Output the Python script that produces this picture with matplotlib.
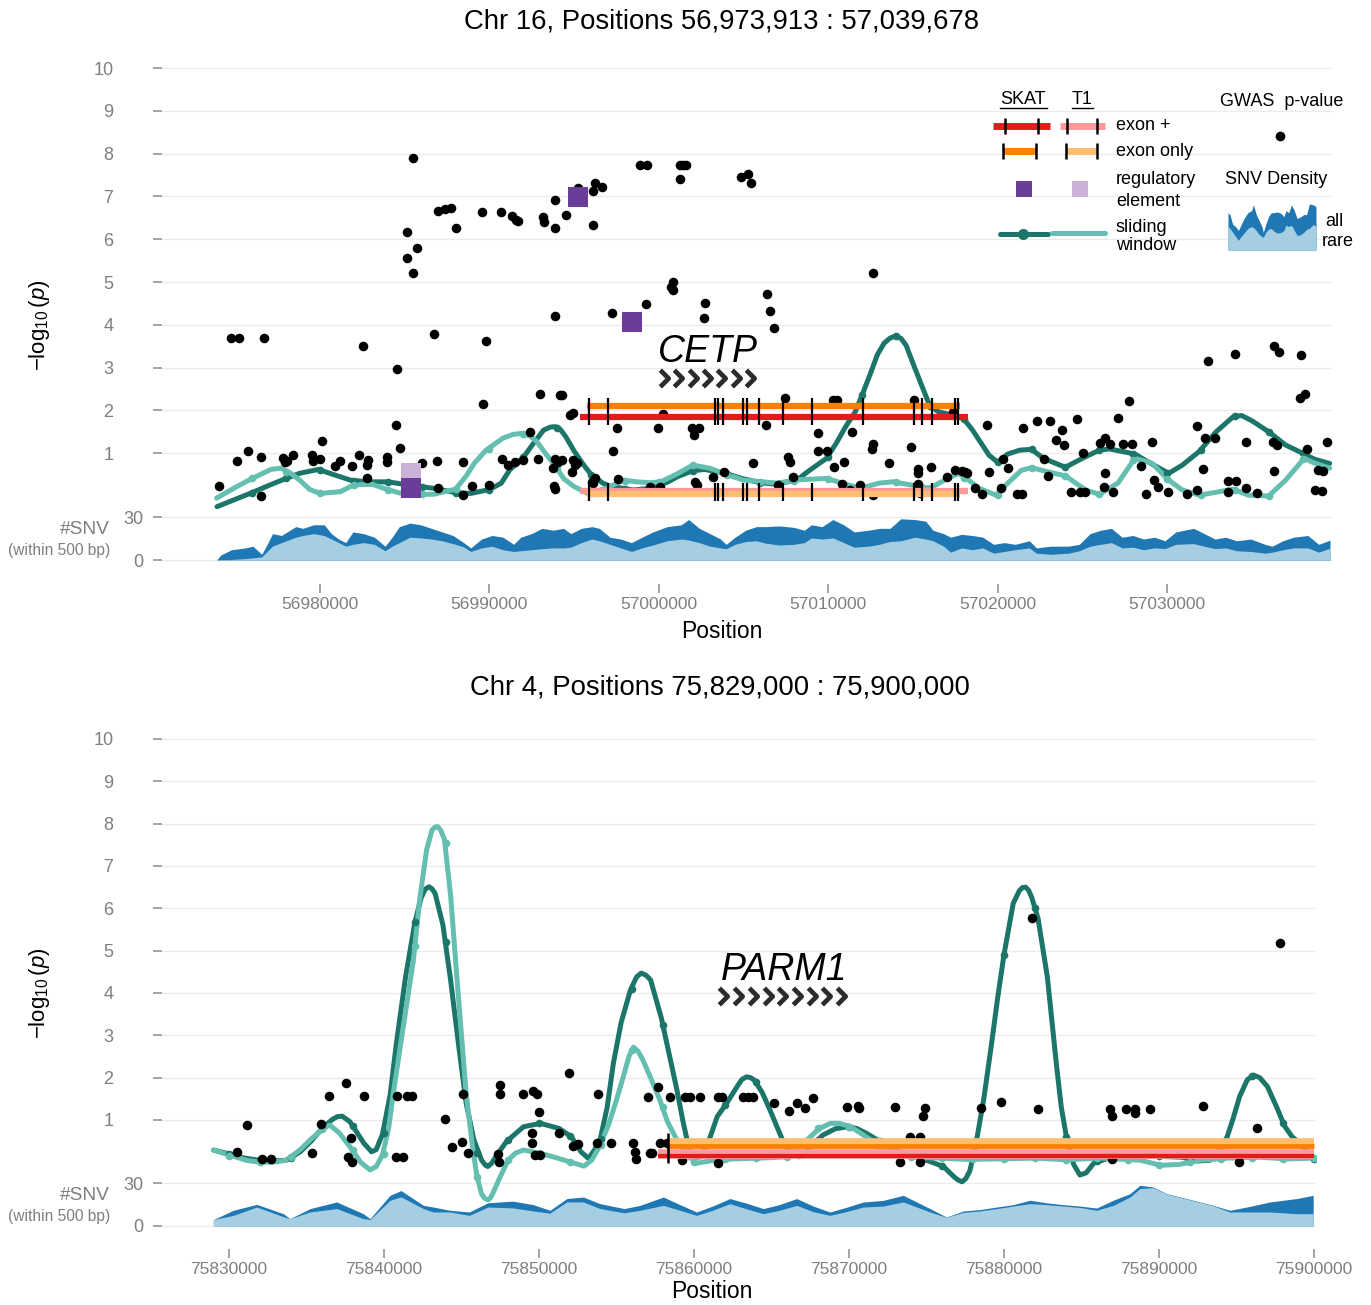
import numpy as np
import matplotlib.pyplot as plt
from matplotlib.path import Path

plt.rcParams['font.family'] = ['Liberation Sans', 'DejaVu Sans']
plt.rcParams['mathtext.fontset'] = 'custom'
plt.rcParams['mathtext.rm'] = 'Liberation Sans'
plt.rcParams['mathtext.it'] = 'Liberation Sans:italic'

# colours
SKAT_SW = '#1b7568'
T1_SW = '#64bfb1'
SKAT_EXP = '#e41a1c'
T1_EXP = '#fb9a99'
SKAT_EXO = '#ff7f00'
T1_EXO = '#fdbf6f'
SKAT_REG = '#6a3d9a'
T1_REG = '#cab2d6'
SNV_ALL = '#1f78b4'
SNV_RARE = '#a6cee3'
GRID = '#ebebeb'
TICK = '#7f7f7f'

# ---------------------------- data: chr16 / CETP (positions in kb) ----------------------------
gwas16 = [
    (56985.47, 7.89), (56998.89, 7.73), (56999.29, 7.73), (56996.23, 7.32), (56996.63, 7.23),
    (56996.13, 7.13), (56995.21, 7.19), (56993.87, 6.92), (56986.95, 6.67), (56987.38, 6.71),
    (56987.73, 6.74), (56988.01, 6.27), (56989.55, 6.63), (56990.68, 6.63), (56991.35, 6.54),
    (56991.71, 6.43), (56991.57, 6.45), (56993.18, 6.51), (56993.20, 6.41), (56993.87, 6.27),
    (56994.50, 6.57), (56996.13, 6.33), (56985.12, 6.18), (56985.74, 5.80), (56985.12, 5.57),
    (56985.51, 5.22), (56974.75, 3.68), (56975.24, 3.68), (56976.71, 3.68), (56982.52, 3.51),
    (56986.75, 3.79), (56989.80, 3.62), (56984.56, 2.97), (56993.87, 4.21), (56997.22, 4.28),
    (56999.24, 4.48), (56989.60, 2.16), (56992.99, 2.38), (56994.17, 2.35), (56994.76, 1.89),
    (56994.95, 1.95), (56997.51, 1.58), (56997.31, 1.05), (56984.47, 1.67), (56984.72, 1.11),
    (56980.14, 1.29), (56992.40, 1.49),
    (56975.77, 1.04), (56975.08, 0.82), (56976.50, 0.92), (56977.83, 0.88), (56978.07, 0.82),
    (56978.42, 0.96), (56977.93, 0.80), (56979.51, 0.96), (56979.60, 0.82), (56980.00, 0.86),
    (56980.89, 0.69), (56981.18, 0.82), (56981.87, 0.69), (56982.30, 0.96), (56982.76, 0.72),
    (56982.85, 0.84), (56982.76, 0.43), (56983.94, 0.92), (56983.94, 0.80), (56986.00, 0.76),
    (56986.89, 0.82), (56988.46, 0.80), (56990.76, 0.86), (56991.12, 0.72), (56991.51, 0.80),
    (56992.00, 0.84), (56992.85, 0.86), (56993.87, 0.86), (56994.07, 0.80), (56994.27, 0.84),
    (56994.95, 0.84), (56995.15, 0.76), (56994.86, 0.57), (56993.77, 0.65), (56993.81, 0.23),
    (56993.87, 0.16), (56974.06, 0.24), (56976.52, 0.01), (56988.99, 0.23), (56988.46, 0.02),
    (56989.99, 0.26), (56996.23, 0.41), (56996.04, 0.33), (56997.61, 0.39), (56986.98, 0.18),
    (57001.25, 7.73), (57001.61, 7.73), (57001.41, 7.73), (57001.25, 7.41), (57004.85, 7.45),
    (57005.28, 7.52), (57005.44, 7.32), (57012.66, 5.22), (57000.86, 5.01), (57000.72, 4.89),
    (57000.86, 4.81), (57002.73, 4.52), (57002.67, 4.17), (57006.37, 4.71), (57006.56, 4.32),
    (57006.82, 3.93), (56994.27, 2.36), (57000.27, 1.92), (57007.45, 2.28), (57010.30, 2.24),
    (57010.50, 2.24), (57015.06, 2.24), (57017.38, 1.97), (56999.93, 1.58), (57001.94, 1.60),
    (57002.39, 1.60), (57002.10, 1.43), (57006.31, 1.66), (57009.38, 1.48), (57011.39, 1.50),
    (57012.66, 1.21), (57012.57, 1.09), (57014.87, 1.14), (57009.38, 1.04), (57009.91, 1.06),
    (56995.05, 0.72), (57005.54, 0.76), (57007.61, 0.90), (57007.74, 0.80), (57010.93, 0.80),
    (57010.36, 0.67), (57013.59, 0.78), (57015.32, 0.62), (57015.32, 0.53), (57016.05, 0.67),
    (57017.49, 0.61), (57018.08, 0.57), (57018.67, 0.18), (57017.00, 0.45), (56996.13, 0.30),
    (56999.48, 0.22), (57000.07, 0.22), (57002.14, 0.33), (57002.24, 0.26), (57003.18, 0.45),
    (57003.87, 0.55), (57007.94, 0.45), (57007.02, 0.26), (57010.80, 0.28), (57011.29, 0.14),
    (57011.88, 0.26), (57012.66, 0.02), (57015.32, 0.28), (57015.42, 0.06),
    (57032.44, 3.15), (57034.01, 3.31), (57036.32, 3.50), (57036.63, 3.37), (57037.89, 3.29),
    (57037.85, 2.28), (57038.15, 2.38), (57027.76, 2.22), (57019.39, 1.67), (57021.52, 1.60),
    (57022.34, 1.76), (57023.09, 1.76), (57023.78, 1.54), (57023.45, 1.31), (57023.94, 1.19),
    (57024.67, 1.80), (57027.09, 1.83), (57025.06, 1.00), (57026.34, 1.35), (57026.04, 1.23),
    (57026.64, 1.21), (57027.38, 1.21), (57027.92, 1.21), (57029.10, 1.27), (57031.79, 1.64),
    (57032.24, 1.36), (57032.83, 1.36), (57034.66, 1.27), (57036.27, 1.25), (57036.48, 1.19),
    (57038.28, 1.10), (57039.43, 1.25), (57017.88, 0.59), (57018.17, 0.54), (57019.51, 0.57),
    (57020.30, 0.86), (57020.63, 0.66), (57022.76, 0.86), (57022.96, 0.47), (57019.06, 0.04),
    (57020.20, 0.18), (57021.13, 0.04), (57021.42, 0.04), (57024.31, 0.10), (57024.86, 0.10),
    (57025.16, 0.10), (57026.34, 0.53), (57026.30, 0.22), (57026.83, 0.10), (57028.47, 0.70),
    (57028.76, 0.04), (57029.23, 0.37), (57029.49, 0.22), (57030.08, 0.09), (57031.16, 0.04),
    (57031.75, 0.14), (57032.11, 0.63), (57033.62, 0.35), (57034.07, 0.35), (57033.62, 0.10),
    (57034.66, 0.18), (57035.33, 0.08), (57036.32, 0.59), (57038.93, 0.61), (57039.23, 0.59),
    (57038.74, 0.14), (57039.13, 0.12),
]

# sliding window, SKAT
sw16_skat = [
    (56973.92, -0.25), (56976.0, 0.08), (56977.0, 0.25), (56978.0, 0.41), (56978.8, 0.53),
    (56979.9, 0.62), (56980.8, 0.50), (56981.8, 0.37), (56982.8, 0.33), (56984.0, 0.33),
    (56985.7, 0.23), (56986.7, 0.18), (56988.0, 0.08), (56988.9, 0.06), (56990.0, 0.15),
    (56990.7, 0.30), (56991.2, 0.61), (56992.0, 0.90), (56992.6, 1.23), (56993.2, 1.54),
    (56993.6, 1.61), (56993.9, 1.62), (56994.2, 1.55), (56994.5, 1.39), (56995.0, 1.05),
    (56995.5, 0.76), (56996.0, 0.50), (56996.7, 0.30), (56997.1, 0.23), (56998.0, 0.17),
    (56998.5, 0.14), (56999.5, 0.18), (57000.5, 0.32), (57001.1, 0.45), (57002.0, 0.59),
    (57002.7, 0.62), (57003.9, 0.53), (57004.9, 0.41), (57006.0, 0.31), (57006.8, 0.28),
    (57007.6, 0.33), (57008.3, 0.42), (57008.9, 0.60), (57009.9, 0.88), (57010.5, 1.25),
    (57011.0, 1.60), (57011.6, 1.97), (57012.0, 2.36), (57012.5, 2.87), (57012.9, 3.30),
    (57013.3, 3.57), (57013.65, 3.69), (57014.0, 3.74), (57014.3, 3.68), (57014.6, 3.52),
    (57015.1, 3.00), (57015.6, 2.50), (57016.0, 2.10), (57016.5, 1.97), (57017.0, 1.92),
    (57017.6, 1.86), (57018.0, 1.80), (57018.5, 1.55), (57019.0, 1.25), (57019.5, 0.95),
    (57020.0, 0.79), (57020.6, 0.98), (57021.3, 1.07), (57022.0, 1.09), (57022.7, 0.88),
    (57024.0, 0.67), (57025.0, 0.88), (57026.0, 1.07), (57026.6, 1.10), (57028.1, 0.98),
    (57029.0, 0.77), (57030.1, 0.53), (57030.9, 0.72), (57031.9, 1.04), (57032.9, 1.50),
    (57033.9, 1.85), (57034.4, 1.88), (57035.0, 1.76), (57036.0, 1.50), (57037.0, 1.19),
    (57038.0, 1.00), (57038.7, 0.86), (57039.6, 0.76),
]
sw16_t1 = [
    (56973.9, -0.05), (56975.0, 0.20), (56976.0, 0.41), (56977.1, 0.62), (56977.7, 0.65),
    (56978.2, 0.55), (56978.8, 0.37), (56979.4, 0.15), (56980.0, 0.06), (56981.2, 0.10),
    (56982.0, 0.26), (56983.1, 0.27), (56983.9, 0.16), (56984.7, 0.07), (56985.5, 0.04),
    (56986.7, 0.04), (56988.0, 0.16), (56988.6, 0.45), (56989.1, 0.76), (56989.8, 1.07),
    (56990.8, 1.35), (56991.4, 1.44), (56991.9, 1.46), (56992.4, 1.40), (56992.8, 1.27),
    (56993.3, 1.00), (56993.9, 0.69), (56994.4, 0.40), (56995.0, 0.22), (56995.8, 0.06),
    (56996.9, 0.18), (56997.9, 0.37), (56998.7, 0.33), (56999.5, 0.31), (57000.1, 0.33),
    (57001.0, 0.50), (57002.0, 0.72), (57003.0, 0.65), (57004.0, 0.50), (57005.0, 0.37),
    (57007.0, 0.30), (57008.3, 0.38), (57009.9, 0.41), (57011.0, 0.28), (57011.9, 0.18),
    (57013.0, 0.30), (57013.8, 0.33), (57015.0, 0.25), (57016.0, 0.18), (57017.0, 0.40),
    (57017.7, 0.53), (57018.2, 0.40), (57018.9, 0.18), (57019.9, 0.02), (57020.6, 0.30),
    (57021.4, 0.60), (57022.0, 0.66), (57022.6, 0.60), (57024.0, 0.47), (57025.2, 0.14),
    (57026.0, 0.04), (57027.1, 0.30), (57028.1, 0.88), (57029.1, 0.77), (57030.1, 0.37),
    (57030.9, 0.14), (57031.9, 0.02), (57032.8, 0.08), (57033.9, 0.16), (57034.8, 0.02),
    (57036.0, 0.00), (57037.0, 0.37), (57038.1, 0.88), (57038.7, 0.77), (57039.6, 0.65),
]
# window centres (every 2 kb) marked with a dot
knots16_kb = list(range(56976, 57039, 2))
knots16_skat = [0.08, 0.41, 0.61, 0.36, 0.33, 0.21, 0.08, 0.15, 0.90, 1.58, 0.50, 0.17, 0.25,
                0.59, 0.52, 0.31, 0.37, 0.90, 2.36, 3.74, 2.10, 1.80, 0.79, 1.09, 0.67, 1.07,
                0.99, 0.53, 1.08, 1.86, 1.50, 1.00]
knots16_t1 = [0.41, 0.55, 0.06, 0.26, 0.15, 0.04, 0.16, 1.10, 1.45, 0.65, 0.08, 0.36, 0.33,
              0.72, 0.50, 0.33, 0.36, 0.40, 0.19, 0.32, 0.18, 0.42, 0.03, 0.66, 0.47, 0.04,
              0.85, 0.39, 0.02, 0.15, 0.00, 0.86]

# SNV density within 500 bp (kb, all, rare)
snv16 = [
    (56973.93, 0.5, 0.0), (56974.14, 3.6, 0.3), (56974.77, 7.3, 0.5), (56975.61, 8.6, 1.1),
    (56976.04, 9.8, 1.6), (56976.56, 4.1, 2.3), (56976.88, 11.1, 6.1), (56977.20, 18.6, 9.8),
    (56977.72, 17.3, 12.3), (56978.57, 23.5, 16.1), (56978.99, 22.3, 17.3), (56979.62, 24.8, 18.6),
    (56980.25, 24.8, 17.3), (56980.67, 18.6, 14.8), (56981.10, 14.8, 12.3), (56981.52, 12.3, 9.8),
    (56981.94, 19.8, 11.1), (56982.57, 18.6, 12.3), (56983.21, 16.1, 11.1), (56983.84, 9.8, 6.6),
    (56984.26, 16.1, 9.8), (56984.68, 23.5, 12.3), (56985.31, 26.0, 16.1), (56985.94, 24.8, 15.6),
    (56986.58, 22.3, 14.8), (56987.21, 19.8, 13.6), (56987.85, 17.3, 11.6), (56988.48, 12.3, 9.3),
    (56988.90, 8.6, 6.1), (56989.53, 14.8, 8.6), (56990.16, 17.3, 9.8), (56990.80, 16.1, 7.3),
    (56991.43, 11.1, 6.1), (56991.85, 16.1, 6.6), (56992.48, 18.6, 7.3), (56993.11, 22.3, 8.0),
    (56993.75, 21.0, 8.6), (56994.38, 22.3, 8.6), (56994.80, 18.6, 9.1), (56995.43, 22.3, 12.3),
    (56996.06, 23.5, 14.8), (56996.49, 22.3, 13.6), (56997.12, 16.1, 11.1), (56997.75, 14.8, 8.6),
    (56998.38, 12.3, 6.1), (56999.01, 16.1, 8.6), (56999.65, 19.8, 10.6), (57000.49, 23.5, 13.6),
    (57001.33, 24.8, 14.8), (57001.76, 28.5, 14.1), (57002.39, 22.3, 12.3), (57003.02, 18.6, 9.8),
    (57003.65, 14.8, 8.6), (57003.97, 11.1, 8.0), (57004.50, 16.1, 11.1), (57005.13, 21.0, 13.1),
    (57005.76, 23.5, 13.6), (57006.27, 23.5, 12.0), (57007.11, 24.0, 10.6), (57007.96, 23.0, 11.1),
    (57008.59, 21.0, 12.3), (57009.01, 24.8, 15.6), (57009.64, 23.5, 14.8), (57010.28, 28.5, 15.6),
    (57010.91, 24.8, 12.3), (57011.54, 19.8, 9.1), (57012.38, 21.0, 9.8), (57013.02, 22.3, 11.1),
    (57013.65, 22.3, 13.1), (57014.28, 29.0, 13.6), (57015.13, 28.5, 16.1), (57015.76, 27.3, 14.8),
    (57016.18, 21.0, 13.6), (57016.81, 18.6, 9.8), (57017.23, 16.1, 5.6), (57017.87, 18.1, 8.6),
    (57018.50, 17.3, 7.3), (57019.13, 16.1, 8.6), (57019.76, 11.1, 4.9), (57020.40, 12.3, 6.1),
    (57021.03, 11.1, 7.3), (57021.87, 13.6, 8.6), (57022.29, 8.6, 4.9), (57023.14, 9.8, 4.1),
    (57024.19, 9.8, 4.9), (57024.82, 11.1, 6.6), (57025.46, 18.6, 9.8), (57026.09, 21.0, 11.1),
    (57026.72, 22.3, 12.3), (57027.35, 16.1, 8.6), (57027.99, 17.3, 9.1), (57028.62, 14.8, 7.3),
    (57029.25, 16.1, 8.6), (57029.88, 13.6, 8.1), (57030.52, 19.8, 11.1), (57031.57, 22.3, 11.6),
    (57032.20, 18.6, 9.8), (57032.83, 14.8, 8.1), (57033.46, 16.1, 8.6), (57034.10, 13.6, 6.6),
    (57034.94, 14.8, 6.1), (57035.79, 11.1, 4.9), (57036.21, 9.8, 5.6), (57036.84, 13.6, 7.3),
    (57037.47, 16.1, 8.6), (57038.32, 17.3, 8.6), (57038.95, 11.1, 5.6), (57039.62, 14.0, 8.4),
]

# gene-based tests: -log10(p)
cetp_gene = (56995.76, 57017.76)
cetp_flank = (56995.35, 57018.25)
cetp_exons = [56995.88, 56997.00, 57003.32, 57003.49, 57003.79, 57004.97, 57005.21, 57005.92,
              57007.33, 57009.04, 57012.05, 57015.06, 57015.54, 57016.13, 57017.49, 57017.66]
cetp_skat_exonplus = 1.84
cetp_skat_exononly = 2.10
cetp_t1_exonplus = 0.12
cetp_t1_exononly = 0.05
reg16_skat = [(56995.23, 6.99), (56998.42, 4.07), (56985.37, 0.19)]
reg16_t1 = [(56985.37, 0.54)]

# ---------------------------- data: chr4 / PARM1 ----------------------------
gwas4 = [
    (75830.50, 0.25), (75831.14, 0.88), (75832.11, 0.09), (75832.69, 0.09), (75835.37, 0.21),
    (75835.92, 0.90), (75836.47, 1.57), (75837.53, 1.87), (75837.70, 0.13), (75837.87, 0.57),
    (75837.92, 0.01), (75838.71, 1.57), (75840.75, 0.13), (75840.82, 1.57), (75841.25, 0.13),
    (75841.46, 1.57), (75841.79, 1.57), (75843.94, 1.02), (75844.37, 0.37), (75845.05, 0.47),
    (75845.12, 1.61), (75845.44, 0.21), (75847.37, 0.20), (75847.40, 0.01), (75847.48, 1.83),
    (75847.50, 1.61), (75848.95, 1.61), (75849.53, 0.70), (75849.55, 0.45), (75849.63, 1.68),
    (75849.74, 0.17), (75849.89, 1.61), (75850.02, 1.20), (75850.06, 0.17), (75851.29, 0.70),
    (75851.94, 2.10), (75852.21, 0.39), (75852.54, 0.43), (75853.72, 0.45), (75853.83, 1.61),
    (75854.65, 0.45), (75856.08, 0.45), (75856.19, 0.25), (75856.26, 0.07), (75857.05, 1.54),
    (75857.16, 0.21), (75857.27, 0.21), (75857.70, 1.79), (75857.81, 0.45), (75858.24, 0.45),
    (75858.45, 1.54), (75859.21, 0.05), (75859.42, 1.54), (75859.74, 1.54), (75860.39, 1.54),
    (75861.57, 1.54), (75861.57, -0.02), (75861.79, 1.54), (75863.18, 1.54), (75863.50, 1.54),
    (75863.83, 1.54), (75865.18, 1.39), (75866.15, 1.22), (75866.63, 1.39), (75867.16, 1.29),
    (75867.66, 1.51), (75869.85, 1.30), (75870.56, 1.33), (75870.66, 1.29), (75872.97, 1.30),
    (75873.29, 0.01), (75873.94, 0.60), (75874.58, 0.60), (75874.58, 0.01), (75874.79, 1.10),
    (75874.90, 1.28), (75878.50, 1.28), (75879.79, 1.43), (75881.83, 5.78), (75882.17, 1.25),
    (75886.84, 1.25), (75886.95, 0.09), (75886.99, 1.09), (75887.85, 1.25), (75888.45, 1.25),
    (75888.45, 1.16), (75889.42, 1.25), (75892.86, 1.34), (75895.18, 0.00), (75896.30, 0.82),
    (75897.81, 5.19),
]
sw4_skat = [
    (75829.0, 0.29), (75830.3, 0.17), (75831.0, 0.10), (75831.9, 0.05), (75832.8, 0.03),
    (75833.7, 0.05), (75834.6, 0.25), (75835.3, 0.50), (75836.1, 0.84), (75836.7, 1.02),
    (75837.0, 1.08), (75837.3, 1.09), (75837.8, 0.96), (75838.3, 0.68), (75838.7, 0.45),
    (75839.2, 0.25), (75839.5, 0.30), (75839.9, 0.66), (75840.4, 1.60), (75840.8, 2.81),
    (75841.4, 4.40), (75842.0, 5.68), (75842.4, 6.25), (75842.65, 6.45), (75842.9, 6.51),
    (75843.1, 6.46), (75843.3, 6.35), (75843.8, 5.61), (75844.3, 4.30), (75844.8, 2.81),
    (75845.3, 1.40), (75845.8, 0.53), (75846.3, 0.05), (75846.55, -0.07), (75846.7, -0.10),
    (75846.95, -0.02), (75847.3, 0.18), (75847.9, 0.49), (75849.0, 0.84), (75850.1, 0.92),
    (75851.3, 0.80), (75852.1, 0.60), (75852.7, 0.25), (75853.2, 0.09), (75853.9, 0.46),
    (75854.4, 1.30), (75854.8, 2.34), (75855.3, 3.30), (75855.9, 4.07), (75856.3, 4.38),
    (75856.6, 4.47), (75856.9, 4.42), (75857.2, 4.31), (75857.9, 3.40), (75858.4, 2.55),
    (75858.9, 1.71), (75859.3, 0.95), (75859.7, 0.29), (75860.1, 0.12), (75860.5, 0.13),
    (75861.0, 0.55), (75861.5, 1.08), (75862.1, 1.39), (75862.8, 1.80), (75863.1, 1.96),
    (75863.4, 2.02), (75863.65, 2.00), (75863.9, 1.94), (75864.4, 1.65), (75864.9, 1.24),
    (75865.4, 0.80), (75865.8, 0.45), (75866.3, 0.20), (75866.8, 0.13), (75867.5, 0.35),
    (75868.3, 0.64), (75869.1, 0.79), (75869.9, 0.84), (75870.5, 0.80), (75871.1, 0.69),
    (75872.2, 0.45), (75873.0, 0.28), (75873.9, 0.20), (75875.0, 0.05), (75876.1, -0.10),
    (75876.8, -0.35), (75877.05, -0.42), (75877.3, -0.46), (75877.55, -0.38), (75877.8, -0.20),
    (75878.2, 0.45), (75878.7, 1.50), (75879.2, 2.80), (75879.6, 3.90), (75880.0, 4.90),
    (75880.6, 6.12), (75881.0, 6.42), (75881.2, 6.49), (75881.4, 6.50), (75881.6, 6.42),
    (75881.8, 6.25), (75882.2, 5.76), (75882.8, 4.38), (75883.4, 2.26), (75883.7, 1.30),
    (75884.1, 0.45), (75884.5, -0.05), (75884.9, -0.30), (75885.3, -0.25), (75885.8, -0.02),
    (75887.0, 0.13), (75889.4, 0.15), (75891.5, 0.12), (75892.5, 0.03), (75893.3, 0.05),
    (75893.9, 0.30), (75894.4, 0.60), (75894.8, 1.05), (75895.2, 1.55), (75895.7, 1.95),
    (75896.1, 2.06), (75896.5, 2.00), (75897.0, 1.79), (75897.6, 1.30), (75898.1, 0.86),
    (75898.6, 0.60), (75899.1, 0.45), (75900.0, 0.09),
]
sw4_t1 = [
    (75829.0, 0.29), (75830.3, 0.14), (75831.2, 0.04), (75831.9, 0.01), (75832.8, 0.00),
    (75833.7, 0.05), (75834.6, 0.30), (75835.3, 0.55), (75836.1, 0.80), (75836.5, 0.88),
    (75837.1, 0.70), (75837.8, 0.37), (75838.5, 0.00), (75839.1, -0.18), (75839.5, -0.10),
    (75839.9, 0.17), (75840.3, 0.80), (75840.6, 1.63), (75841.2, 3.10), (75841.9, 4.78),
    (75842.3, 6.20), (75842.75, 7.38), (75843.1, 7.85), (75843.3, 7.92), (75843.46, 7.93),
    (75843.65, 7.85), (75843.9, 7.63), (75844.3, 6.30), (75844.7, 4.38), (75845.0, 3.00),
    (75845.3, 1.63), (75845.7, 0.40), (75846.0, -0.34), (75846.3, -0.75), (75846.5, -0.85),
    (75846.7, -0.89), (75846.85, -0.85), (75847.0, -0.75), (75847.4, -0.42), (75848.0, 0.05),
    (75848.5, 0.22), (75849.0, 0.29), (75850.1, 0.21), (75851.0, 0.12), (75852.0, 0.01),
    (75852.9, -0.09), (75853.4, 0.05), (75853.9, 0.37), (75854.5, 0.90), (75855.0, 1.47),
    (75855.5, 2.10), (75855.8, 2.50), (75856.1, 2.72), (75856.4, 2.62), (75856.7, 2.42),
    (75857.2, 2.00), (75857.8, 1.47), (75858.3, 0.95), (75858.9, 0.53), (75859.5, 0.18),
    (75860.2, -0.02), (75861.3, 0.05), (75862.5, 0.08), (75864.3, 0.10), (75866.0, 0.13),
    (75866.8, 0.35), (75867.5, 0.60), (75868.1, 0.80), (75868.8, 0.92), (75869.4, 0.92),
    (75870.1, 0.84), (75870.7, 0.70), (75871.4, 0.53), (75872.0, 0.35), (75872.7, 0.21),
    (75874.0, 0.12), (75875.9, 0.10), (75877.5, 0.07), (75879.7, 0.08), (75882.0, 0.10),
    (75884.0, 0.06), (75886.2, 0.10), (75888.8, 0.05), (75890.1, -0.07), (75891.3, -0.05),
    (75892.7, 0.05), (75894.5, 0.10), (75896.5, 0.12), (75898.3, 0.08), (75900.0, 0.10),
]
knots4_kb = list(range(75830, 75901, 2))
knots4_skat = [0.20, 0.05, 0.10, 0.82, 0.85, 0.70, 5.68, 5.20, 0.22, 0.52, 0.92, 0.63, 0.55,
               4.10, 3.25, 0.20, 1.36, 1.90, 0.38, 0.52, 0.83, 0.50, 0.19, -0.08, 0.10, 4.90,
               6.00, 0.60, 0.02, 0.14, 0.14, 0.08, 0.37, 2.05, 0.93, 0.09]
knots4_t1 = [0.15, 0.01, 0.12, 0.78, 0.28, 0.20, 5.10, 7.55, -0.34, 0.05, 0.21, 0.01, 0.42,
             2.65, 1.30, 0.00, 0.07, 0.10, 0.13, 0.80, 0.84, 0.35, 0.12, 0.10, 0.07, 0.08,
             0.10, 0.06, 0.10, 0.06, -0.07, 0.00, 0.09, 0.11, 0.09, 0.10]
snv4 = [
    (75828.99, 4.4, 4.4), (75830.28, 11.0, 7.4), (75831.79, 15.2, 13.3), (75833.50, 8.6, 6.5),
    (75833.94, 5.1, 5.1), (75835.23, 12.2, 9.8), (75836.95, 16.9, 12.2), (75838.66, 8.6, 5.1),
    (75839.10, 5.1, 4.5), (75840.39, 21.6, 18.1), (75841.10, 25.0, 20.5), (75842.54, 14.5, 12.2),
    (75843.18, 13.3, 9.8), (75844.26, 11.0, 9.8), (75845.50, 9.8, 7.4), (75846.70, 16.3, 13.3),
    (75848.30, 17.5, 12.7), (75849.63, 15.0, 10.5), (75850.71, 11.0, 9.0), (75851.79, 19.3, 16.9),
    (75852.86, 20.4, 16.9), (75853.94, 15.7, 12.2), (75855.50, 12.2, 9.2), (75856.52, 14.5, 11.0),
    (75858.02, 20.4, 14.5), (75859.10, 15.0, 11.0), (75860.17, 9.8, 7.4), (75861.20, 14.0, 11.0),
    (75862.32, 19.3, 15.7), (75863.40, 16.0, 12.0), (75864.47, 12.2, 8.6), (75865.50, 15.0, 11.0),
    (75866.63, 19.3, 14.5), (75867.70, 14.0, 10.0), (75868.77, 9.8, 7.4), (75869.80, 13.0, 10.0),
    (75870.92, 16.9, 13.3), (75872.20, 18.0, 14.0), (75873.50, 21.6, 16.9), (75875.23, 12.2, 9.8),
    (75876.30, 6.2, 6.0), (75877.37, 10.5, 9.5), (75878.45, 11.5, 10.5), (75879.53, 13.3, 12.2),
    (75880.60, 15.0, 14.0), (75881.68, 18.1, 15.7), (75882.75, 16.3, 15.0), (75883.80, 15.0, 14.0),
    (75884.90, 14.0, 13.0), (75885.98, 12.6, 11.0), (75887.05, 18.1, 14.5), (75888.13, 22.8, 20.4),
    (75888.77, 28.7, 26.4), (75889.63, 27.5, 27.0), (75890.50, 22.8, 22.5), (75891.79, 19.3, 19.0),
    (75893.50, 14.5, 14.2), (75894.58, 11.0, 9.8), (75895.66, 13.3, 9.8), (75897.16, 16.9, 9.8),
    (75898.88, 19.3, 8.6), (75899.95, 21.6, 8.6),
]
parm1_start = 75858.32
parm1_flank_start = 75857.70
window4_end = 75900.0
parm1_skat_exonplus = 0.15
parm1_skat_exononly = 0.39
parm1_t1_exonplus = 0.20
parm1_t1_exononly = 0.45


def xy(lst):
    a = np.array(lst, dtype=float)
    return a[:, 0] * 1000, a[:, 1]


def snv_y(count):
    # density band sits under the p-value scale: 0 -> -1.5, 30 -> -0.5
    return -1.5 + np.asarray(count) / 30.0


chevron = Path([(-0.5, 1.0), (0.5, 0.0), (-0.5, -1.0)],
               [Path.MOVETO, Path.LINETO, Path.LINETO])

W, H = 1371, 1305
fig = plt.figure(figsize=(W / 100, H / 100), dpi=100)


def style(ax, xlim, xticks):
    ax.set_xlim(*xlim)
    ax.set_ylim(-2.05, 10.3)
    for s in ax.spines.values():
        s.set_visible(False)
    ax.set_yticks([-1.5, -0.5] + list(range(1, 11)))
    ax.set_yticklabels(['0', '30'] + [str(i) for i in range(1, 11)])
    ax.tick_params(axis='y', length=6.5, width=1.1, color='#8c8c8c', labelcolor=TICK,
                   labelsize=13, pad=28.5)
    for t in ax.yaxis.get_major_ticks()[:2]:
        t.set_pad(7)
    ax.grid(axis='y', color=GRID, lw=1.0)
    ax.set_axisbelow(True)
    ax.set_xticks(xticks)
    ax.set_xticklabels([str(v) for v in xticks])
    ax.tick_params(axis='x', length=6.5, width=1.1, color='#8c8c8c', labelcolor=TICK,
                   labelsize=12.5, pad=3)


def draw_common(ax, snv, sw_skat, sw_t1, kn_kb, kn_skat, kn_t1, gwas):
    a = np.array(snv, dtype=float)
    ax.fill_between(a[:, 0] * 1000, -1.5, snv_y(a[:, 1]), color=SNV_ALL, lw=0, zorder=1)
    ax.fill_between(a[:, 0] * 1000, -1.5, snv_y(a[:, 2]), color=SNV_RARE, lw=0, zorder=1.1)
    kx = np.array(kn_kb) * 1000
    for curve, kv, col in ((sw_skat, kn_skat, SKAT_SW), (sw_t1, kn_t1, T1_SW)):
        cx, cy = xy(curve)
        ax.plot(cx, cy, color=col, lw=3.6, solid_capstyle='round',
                solid_joinstyle='round', zorder=2)
        ax.plot(kx, kv, 'o', color=col, ms=5.5, mew=0, zorder=2.1)
    gx, gy = xy(gwas)
    ax.plot(gx, gy, 'o', color='black', ms=6.9, mew=0, zorder=3)


def hbar(ax, x0, x1, y, col, lw):
    ax.plot([x0 * 1000, x1 * 1000], [y, y], color=col, lw=lw, solid_capstyle='butt', zorder=4)


# ---------------------------- top panel ----------------------------
ax1 = fig.add_axes([0.11816, 0.55272, 0.85339, 0.40498])
style(ax1, (56970673, 57039738), list(range(56980000, 57030001, 10000)))
draw_common(ax1, snv16, sw16_skat, sw16_t1, knots16_kb, knots16_skat, knots16_t1, gwas16)

hbar(ax1, *cetp_flank, cetp_t1_exonplus, T1_EXP, 4.5)
hbar(ax1, *cetp_gene, cetp_t1_exononly, T1_EXO, 4.5)
hbar(ax1, *cetp_flank, cetp_skat_exonplus, SKAT_EXP, 4.5)
hbar(ax1, *cetp_gene, cetp_skat_exononly, SKAT_EXO, 4.5)
ex = np.array(cetp_exons) * 1000
ax1.vlines(ex, cetp_skat_exonplus - 0.18, cetp_skat_exononly + 0.19, colors='black',
           lw=1.6, zorder=5)
ax1.vlines(ex, cetp_t1_exononly - 0.17, cetp_t1_exonplus + 0.18, colors='black',
           lw=1.6, zorder=5)
rt = np.array(reg16_t1)
ax1.plot(rt[:, 0] * 1000, rt[:, 1], 's', color=T1_REG, ms=14.5, mew=0, zorder=5.5)
rs = np.array(reg16_skat)
ax1.plot(rs[:, 0] * 1000, rs[:, 1], 's', color=SKAT_REG, ms=14.5, mew=0, zorder=5.6)

ax1.text(57002.9e3, 3.36, 'CETP', style='italic', fontsize=27, ha='center', va='center',
         zorder=6)
ax1.plot(np.linspace(57000.3e3, 57005.4e3, 7), [2.76] * 7, ls='none', marker=chevron,
         ms=12, mew=3.4, mec='#2b2b2b', mfc='none', zorder=6)

# ---------------------------- bottom panel ----------------------------
ax2 = fig.add_axes([0.11816, 0.04284, 0.84172, 0.40061])
style(ax2, (75825677, 75900133), list(range(75830000, 75900001, 10000)))
draw_common(ax2, snv4, sw4_skat, sw4_t1, knots4_kb, knots4_skat, knots4_t1, gwas4)

hbar(ax2, parm1_flank_start, window4_end, parm1_t1_exonplus, T1_EXP, 7)
hbar(ax2, parm1_start, window4_end, parm1_t1_exononly, T1_EXO, 7)
hbar(ax2, parm1_flank_start, window4_end, parm1_skat_exonplus, SKAT_EXP, 3)
hbar(ax2, parm1_start, window4_end, parm1_skat_exononly, SKAT_EXO, 3.5)
ax2.vlines([parm1_start * 1000], -0.02, 0.69, colors='black', lw=1.8, zorder=5)

ax2.text(75865.8e3, 4.54, 'PARM1', style='italic', fontsize=27, ha='center', va='center',
         zorder=6)
ax2.plot(np.linspace(75861.9e3, 75869.5e3, 9), [3.93] * 9, ls='none', marker=chevron,
         ms=12, mew=3.4, mec='#2b2b2b', mfc='none', zorder=6)

# ---------------------------- figure-level text & legend (pixel coords) ----------------------------
lg = fig.add_axes([0, 0, 1, 1], zorder=10)
lg.set_xlim(0, W)
lg.set_ylim(H, 0)
lg.axis('off')
lg.patch.set_alpha(0)

lg.text(722, 22, 'Chr 16, Positions 56,973,913 : 57,039,678', ha='center', va='center',
        fontsize=19.8)
lg.text(720, 688, 'Chr 4, Positions 75,829,000 : 75,900,000', ha='center', va='center',
        fontsize=19.8)
for ycen, ysnv in ((325, 530), (993, 1196)):
    lg.text(40, ycen, r'$-\log_{10}(p)$', rotation=90, ha='center', va='center', fontsize=16)
    lg.text(110, ysnv, '#SNV', ha='right', va='center', fontsize=13.8, color=TICK)
    lg.text(110, ysnv + 20, '(within 500 bp)', ha='right', va='center', fontsize=11.2,
            color=TICK)
lg.text(722, 632, 'Position', ha='center', va='center', fontsize=16.5)
lg.text(712, 1292, 'Position', ha='center', va='center', fontsize=16.5)

# legend
lg.text(1023, 99, 'SKAT', ha='center', va='center', fontsize=13)
lg.plot([1000, 1047], [108, 108], color='black', lw=1)
lg.text(1082, 99, 'T1', ha='center', va='center', fontsize=13)
lg.plot([1072, 1093], [108, 108], color='black', lw=1)

lg.plot([993, 1050], [126, 126], color=SKAT_EXP, lw=5, solid_capstyle='butt')
lg.vlines([1005, 1038], 118, 134, colors='black', lw=1.8)
lg.plot([1060, 1105], [126, 126], color=T1_EXP, lw=5, solid_capstyle='butt')
lg.vlines([1067, 1097], 118, 134, colors='black', lw=1.8)
lg.text(1116, 126, 'exon +', ha='left', va='center', fontsize=13)

lg.plot([1003, 1036], [151, 151], color=SKAT_EXO, lw=5, solid_capstyle='butt')
lg.vlines([1003, 1036], 143, 159, colors='black', lw=1.8)
lg.plot([1066, 1097], [151, 151], color=T1_EXO, lw=5, solid_capstyle='butt')
lg.vlines([1066, 1097], 143, 159, colors='black', lw=1.8)
lg.text(1116, 151, 'exon only', ha='left', va='center', fontsize=13)

lg.plot([1024], [189], 's', color=SKAT_REG, ms=12, mew=0)
lg.plot([1080], [189], 's', color=T1_REG, ms=12, mew=0)
lg.text(1116, 180, 'regulatory', ha='left', va='center', fontsize=13)
lg.text(1116, 201, 'element', ha='left', va='center', fontsize=13)

lg.plot([1000, 1048], [234, 234], color=SKAT_SW, lw=3.6, solid_capstyle='round')
lg.plot([1023], [234], 'o', color=SKAT_SW, ms=8, mew=0)
lg.plot([1052, 1105], [233, 233], color=T1_SW, lw=3.6, solid_capstyle='round')
lg.text(1116, 228, 'sliding', ha='left', va='center', fontsize=13)
lg.text(1116, 245, 'window', ha='left', va='center', fontsize=13)

lg.text(1220, 101, 'GWAS  p-value', ha='left', va='center', fontsize=13)
lg.plot([1280], [136], 'o', color='black', ms=7, mew=0)
lg.text(1225, 180, 'SNV Density', ha='left', va='center', fontsize=13)
lg.text(1325, 222, 'all', ha='left', va='center', fontsize=13)
lg.text(1322, 242, 'rare', ha='left', va='center', fontsize=13)

# mini density swatch drawn from a slice of the chr16 density
mini = fig.add_axes([1228 / W, 1 - 250 / H, 88 / W, 46 / H], zorder=11)
sl = np.array([r for r in snv16 if 56996.0 <= r[0] <= 57016.0], dtype=float)
mini.fill_between(sl[:, 0], 0, sl[:, 1], color=SNV_ALL, lw=0)
mini.fill_between(sl[:, 0], 0, sl[:, 2], color=SNV_RARE, lw=0)
mini.set_xlim(sl[0, 0], sl[-1, 0])
mini.set_ylim(0, sl[:, 1].max())
mini.axis('off')

fig.savefig('out.png', dpi=100)
